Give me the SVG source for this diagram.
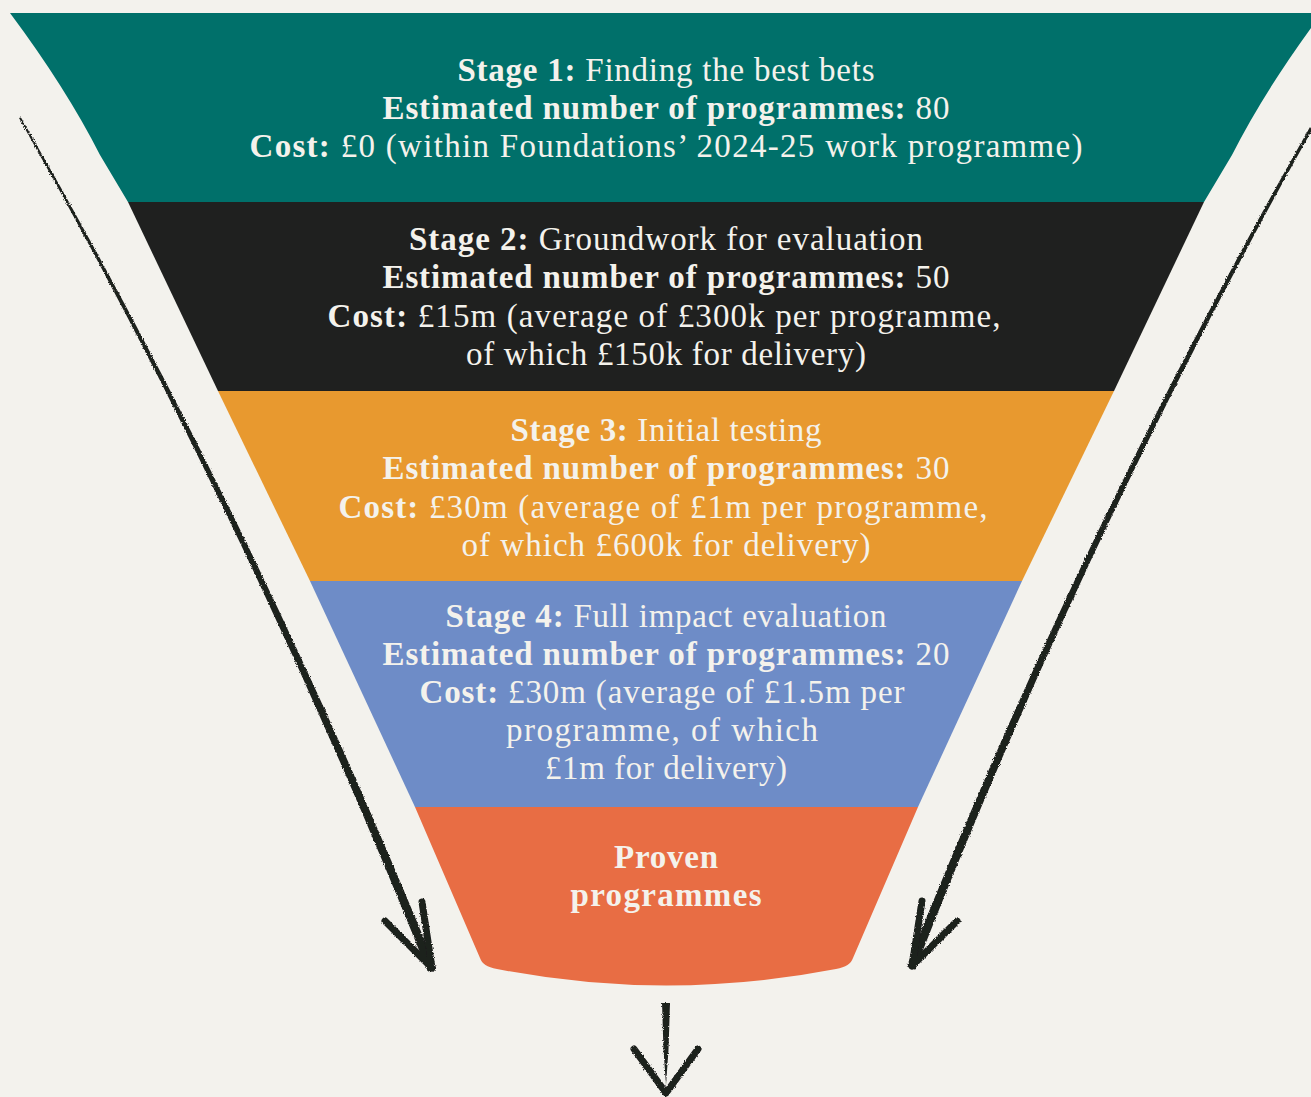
<svg xmlns="http://www.w3.org/2000/svg" width="1311" height="1097" viewBox="0 0 1311 1097">
<style>
.t{font-family:"Liberation Serif","Times New Roman",serif;font-size:33px;fill:#f4f2ec;text-anchor:middle}
.b{font-weight:bold}
.ink{fill:#1f201f}
.arm{fill:none;stroke:#1f201f;stroke-width:7;stroke-linecap:round;stroke-linejoin:round}
</style>
<defs>
<filter id="rough" x="-10%" y="-10%" width="120%" height="120%">
<feTurbulence type="fractalNoise" baseFrequency="0.9" numOctaves="2" seed="3" result="n"/>
<feDisplacementMap in="SourceGraphic" in2="n" scale="3" xChannelSelector="R" yChannelSelector="G"/>
</filter>
</defs>
<rect x="0" y="0" width="1311" height="1097" fill="#f3f2ed"/>
<g id="stage1">
<path d="M10,13 L1322,13 Q1266,88 1232,155 L1204,202 L128,202 L100,155 Q66,88 10,13 Z" fill="#00706a"/>
<text class="t" x="666" y="81" textLength="417" lengthAdjust="spacing"><tspan class="b">Stage 1:</tspan> Finding the best bets</text>
<text class="t" x="666" y="119" textLength="567" lengthAdjust="spacing"><tspan class="b">Estimated number of programmes:</tspan> 80</text>
<text class="t" x="666" y="157" textLength="833" lengthAdjust="spacing"><tspan class="b">Cost:</tspan> £0 (within Foundations’ 2024-25 work programme)</text>
</g>
<g id="stage2">
<path d="M128,202 L1204,202 L1114,391 L218,391 Z" fill="#1f201f"/>
<text class="t" x="666" y="250" textLength="514" lengthAdjust="spacing"><tspan class="b">Stage 2:</tspan> Groundwork for evaluation</text>
<text class="t" x="666" y="288" textLength="567" lengthAdjust="spacing"><tspan class="b">Estimated number of programmes:</tspan> 50</text>
<text class="t" x="664" y="327" textLength="673" lengthAdjust="spacing"><tspan class="b">Cost:</tspan> £15m (average of £300k per programme,</text>
<text class="t" x="666" y="365" textLength="400" lengthAdjust="spacing">of which £150k for delivery)</text>
</g>
<g id="stage3">
<path d="M218,391 L1114,391 L1022,581 L310,581 Z" fill="#e8992f"/>
<text class="t" x="666" y="441" textLength="311" lengthAdjust="spacing"><tspan class="b">Stage 3:</tspan> Initial testing</text>
<text class="t" x="666" y="479" textLength="567" lengthAdjust="spacing"><tspan class="b">Estimated number of programmes:</tspan> 30</text>
<text class="t" x="663" y="518" textLength="649" lengthAdjust="spacing"><tspan class="b">Cost:</tspan> £30m (average of £1m per programme,</text>
<text class="t" x="666" y="556" textLength="409" lengthAdjust="spacing">of which £600k for delivery)</text>
</g>
<g id="stage4">
<path d="M310,581 L1022,581 L918,807 L415,807 Z" fill="#6e8cc7"/>
<text class="t" x="666" y="627" textLength="441" lengthAdjust="spacing"><tspan class="b">Stage 4:</tspan> Full impact evaluation</text>
<text class="t" x="666" y="665" textLength="567" lengthAdjust="spacing"><tspan class="b">Estimated number of programmes:</tspan> 20</text>
<text class="t" x="662" y="703" textLength="485" lengthAdjust="spacing"><tspan class="b">Cost:</tspan> £30m (average of £1.5m per</text>
<text class="t" x="662" y="741" textLength="312" lengthAdjust="spacing">programme, of which</text>
<text class="t" x="666" y="779" textLength="242" lengthAdjust="spacing">£1m for delivery)</text>
</g>
<g id="proven">
<path d="M415,807 L918,807 L853,958 C851,964 846,967 836,969 Q666,1002 497,969 C487,967 482,964 480,958 Z" fill="#e86d44"/>
<text class="t b" x="666" y="868" textLength="104" lengthAdjust="spacing">Proven</text>
<text class="t b" x="666" y="906" textLength="191" lengthAdjust="spacing">programmes</text>
</g>
<g id="connectors" filter="url(#rough)">
<path class="ink" d="M19,118 Q247.4,521.5 427.8,971.7 L436.2,968.3 Q252.6,518.5 21,117.5 Z"/>
<path class="arm" d="M385,921 L432,968 M422,902 L432,968"/>
<path class="ink" d="M1310,127 Q1083.4,524.5 906.8,966.3 L915.2,969.7 Q1088.6,527.5 1312,130 Z"/>
<path class="arm" d="M957,921 L912,966 M922,901 L912,966"/>
<path class="ink" d="M662,1003 L670,1003 L668.5,1050 L666,1085 L663.5,1050 Z"/>
<path class="arm" d="M634,1049 L666,1093 L698,1049"/>
</g>
</svg>
